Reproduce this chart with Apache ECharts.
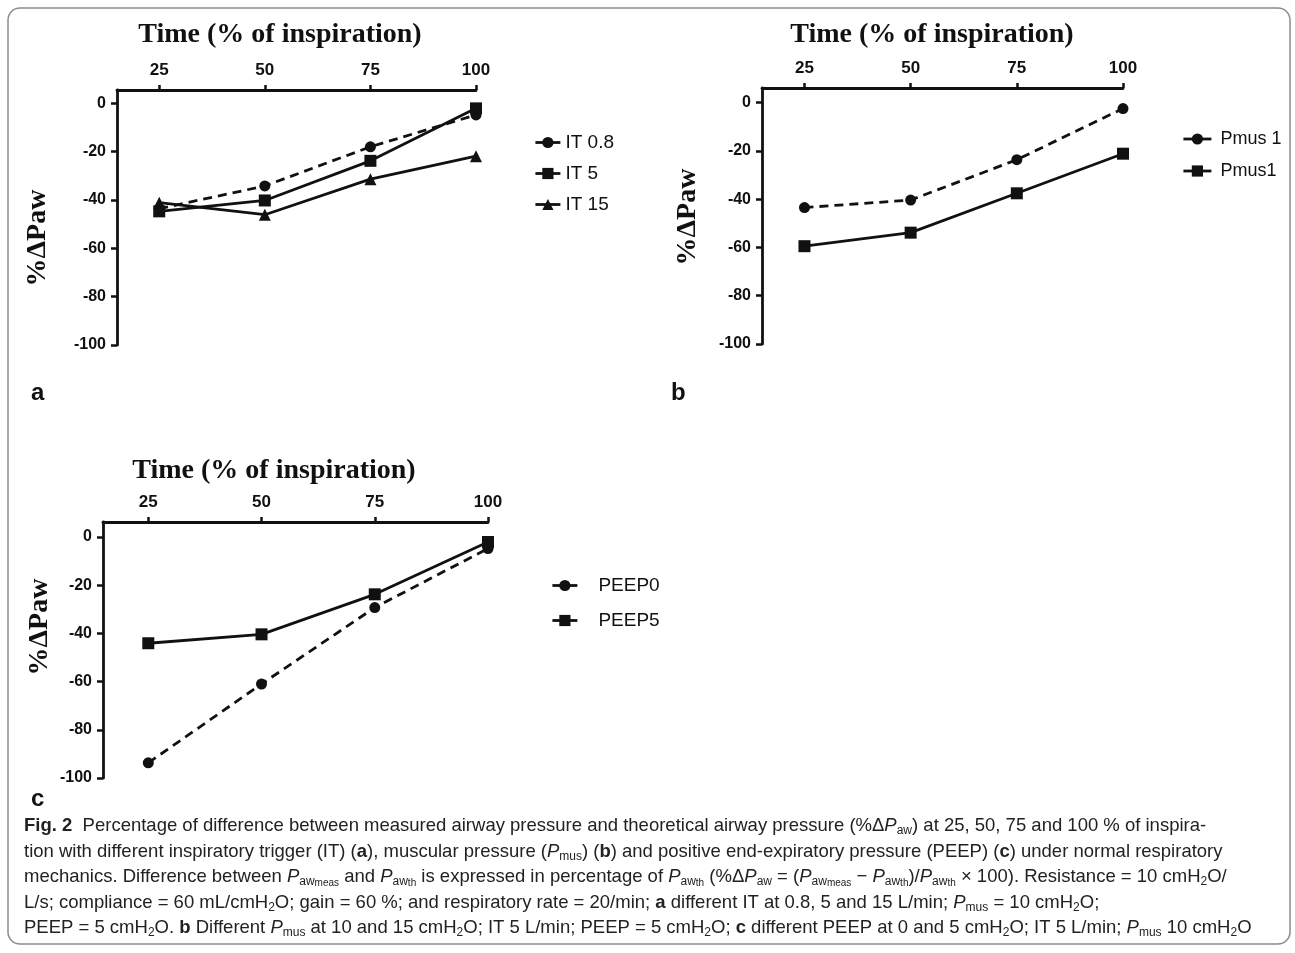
<!DOCTYPE html>
<html>
<head>
<meta charset="utf-8">
<title>Fig. 2 %ΔPaw</title>
<script src="https://cdn.jsdelivr.net/npm/echarts@6/dist/echarts.min.js"></script>
<style>
html, body { margin: 0; padding: 0; background: #fff; }
#chart { width: 1295px; height: 953px; }
</style>
</head>
<body>
<div id="chart"></div>
<script>
// time points (% of inspiration) and tick labels
const times = [25, 50, 75, 100];
const xTicks = [25, 50, 75, 100];
const yTicks = [-100, -80, -60, -40, -20, 0];

// a: different inspiratory trigger
const it08 = [-43.6, -34.2, -18.0, -4.8];
const it5 = [-44.7, -40.2, -23.8, -2.1];
const it15 = [-41.1, -46.1, -31.4, -21.9];
// b: different muscular pressure
const pmus10 = [-43.5, -40.4, -23.7, -2.5];
const pmus15 = [-59.5, -53.9, -37.6, -21.2];
// c: different PEEP
const peep0 = [-93.7, -61.0, -29.3, -4.8];
const peep5 = [-44.1, -40.4, -23.8, -2.1];

const pairs = vals => vals.map((v, i) => [times[i], v]);

const INK = '#111';
const SANS = 'Liberation Sans, Arial, sans-serif';
const SERIF = 'Liberation Serif, Times New Roman, serif';

const grids = [
  { left: 117, top: 90, width: 359, height: 255 },
  { left: 762, top: 88, width: 361, height: 256 },
  { left: 103, top: 522, width: 385, height: 256 }
];
const yMax = [5.5, 6, 6.2];

const xAxes = grids.map((g, i) => ({
  type: 'value', gridIndex: i, position: 'top', min: 15, max: 100,
  axisLine: { onZero: false, lineStyle: { color: INK, width: 2.8 } },
  axisTick: { customValues: xTicks, length: 5, lineStyle: { color: INK, width: 2.5 } },
  axisLabel: { customValues: xTicks, margin: 11, color: INK, fontSize: 17, fontWeight: 'bold', fontFamily: SANS },
  splitLine: { show: false }
}));
const yAxes = grids.map((g, i) => ({
  type: 'value', gridIndex: i, min: -100, max: yMax[i],
  axisLine: { show: true, onZero: false, lineStyle: { color: INK, width: 2.8 } },
  axisTick: { show: true, customValues: yTicks, length: 6, lineStyle: { color: INK, width: 2.5 } },
  axisLabel: { customValues: yTicks, margin: 11, color: INK, fontSize: 16, fontWeight: 'bold', fontFamily: SANS },
  splitLine: { show: false }
}));

function line(name, vals, idx, symbol, dashed) {
  return {
    name, type: 'line', xAxisIndex: idx, yAxisIndex: idx,
    data: pairs(vals),
    symbol, symbolSize: symbol === 'circle' ? 11 : 12,
    itemStyle: { color: INK },
    lineStyle: { color: INK, width: 2.8, type: dashed ? [9, 6] : 'solid' },
    animation: false
  };
}

const series = [
  line('IT 0.8', it08, 0, 'circle', true),
  line('IT 5', it5, 0, 'rect', false),
  line('IT 15', it15, 0, 'triangle', false),
  line('Pmus 10', pmus10, 1, 'circle', true),
  line('Pmus15', pmus15, 1, 'rect', false),
  line('PEEP0', peep0, 2, 'circle', true),
  line('PEEP5', peep5, 2, 'rect', false)
];

const legendBase = {
  orient: 'vertical', itemWidth: 25, itemHeight: 14,
  lineStyle: { type: 'solid', width: 2.8 },
  textStyle: { color: INK, fontSize: 19, fontFamily: SANS }
};
const legends = [
  Object.assign({}, legendBase, { data: ['IT 0.8', 'IT 5', 'IT 15'], left: 529, top: 128, itemGap: 12 }),
  Object.assign({}, legendBase, {
    data: ['Pmus 10', 'Pmus15'], left: 1177, top: 125, itemGap: 14, itemWidth: 28,
    textStyle: { color: INK, fontSize: 18, fontFamily: SANS, width: 64, overflow: 'truncate', ellipsis: '', padding: [0, 0, 0, 4] }
  }),
  Object.assign({}, legendBase, {
    data: ['PEEP0', 'PEEP5'], left: 546, top: 571, itemGap: 16,
    textStyle: { color: INK, fontSize: 19, fontFamily: SANS, padding: [0, 0, 0, 16] }
  })
];

const titleFont = { fill: INK, font: 'bold 28px ' + SERIF, align: 'center', verticalAlign: 'middle' };
const txt = (x, y, text, style, rotation) => ({
  type: 'text', x, y, rotation: rotation || 0, style: Object.assign({ text }, style)
});

const capRich = {
  b: { fontWeight: 'bold', fontSize: 18.5, fontFamily: SANS, fill: '#222' },
  i: { fontStyle: 'italic', fontSize: 18.5, fontFamily: SANS, fill: '#222' },
  s: { fontSize: 12, fontFamily: SANS, fill: '#222', verticalAlign: 'bottom', lineHeight: 13 },
  ss: { fontSize: 10, fontFamily: SANS, fill: '#222', verticalAlign: 'bottom', lineHeight: 7 }
};
const capLines = [
  '{b|Fig. 2}  Percentage of difference between measured airway pressure and theoretical airway pressure (%Δ{i|P}{s|aw}) at 25, 50, 75 and 100 % of inspira-',
  'tion with different inspiratory trigger (IT) ({b|a}), muscular pressure ({i|P}{s|mus}) ({b|b}) and positive end-expiratory pressure (PEEP) ({b|c}) under normal respiratory',
  'mechanics. Difference between {i|P}{s|aw}{ss|meas} and {i|P}{s|aw}{ss|th} is expressed in percentage of {i|P}{s|aw}{ss|th} (%Δ{i|P}{s|aw} = ({i|P}{s|aw}{ss|meas} − {i|P}{s|aw}{ss|th})/{i|P}{s|aw}{ss|th} × 100). Resistance = 10 cmH{s|2}O/',
  'L/s; compliance = 60 mL/cmH{s|2}O; gain = 60 %; and respiratory rate = 20/min; {b|a} different IT at 0.8, 5 and 15 L/min; {i|P}{s|mus} = 10 cmH{s|2}O;',
  'PEEP = 5 cmH{s|2}O. {b|b} Different {i|P}{s|mus} at 10 and 15 cmH{s|2}O; IT 5 L/min; PEEP = 5 cmH{s|2}O; {b|c} different PEEP at 0 and 5 cmH{s|2}O; IT 5 L/min; {i|P}{s|mus} 10 cmH{s|2}O'
];
const capY = [826, 852, 877, 903, 928];

const graphic = [
  { type: 'rect', shape: { x: 8, y: 8, width: 1282, height: 936, r: 12 }, style: { fill: 'none', stroke: '#8c8c8c', lineWidth: 1.5 } },
  txt(280, 35, 'Time (% of inspiration)', titleFont),
  txt(932, 35, 'Time (% of inspiration)', titleFont),
  txt(274, 471, 'Time (% of inspiration)', titleFont),
  txt(38, 238, '%ΔPaw', titleFont, Math.PI / 2),
  txt(688, 217, '%ΔPaw', titleFont, Math.PI / 2),
  txt(40, 627, '%ΔPaw', titleFont, Math.PI / 2),
  txt(31, 393, 'a', { fill: INK, font: 'bold 24px ' + SANS, verticalAlign: 'middle' }),
  txt(671, 393, 'b', { fill: INK, font: 'bold 24px ' + SANS, verticalAlign: 'middle' }),
  txt(31, 799, 'c', { fill: INK, font: 'bold 24px ' + SANS, verticalAlign: 'middle' })
].concat(capLines.map((t, i) => txt(24, capY[i], t, {
  fill: '#222', fontSize: 18.5, fontFamily: SANS, verticalAlign: 'middle', lineHeight: 22, rich: capRich
})));

const chart = echarts.init(document.getElementById('chart'));
chart.setOption({
  animation: false,
  backgroundColor: '#fff',
  grid: grids,
  xAxis: xAxes,
  yAxis: yAxes,
  legend: legends,
  series,
  graphic
});
</script>
</body>
</html>
